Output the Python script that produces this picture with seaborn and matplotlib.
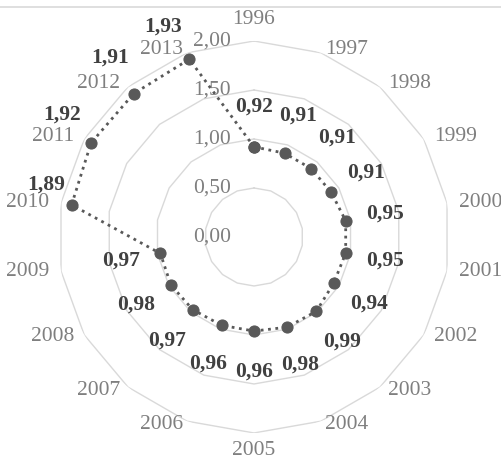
import numpy as np
import pandas as pd
import matplotlib
matplotlib.use("Agg")
import matplotlib.pyplot as plt
from matplotlib.lines import Line2D
import seaborn as sns

# Data
years = [str(y) for y in range(1996, 2014)]
values = [0.92, 0.91, 0.91, 0.91, 0.95, 0.95, 0.94, 0.99, 0.98,
          0.96, 0.96, 0.97, 0.98, 0.97, 1.89, 1.92, 1.91, 1.93]
ring_levels = [0.5, 1.0, 1.5, 2.0]
tick_levels = [0.0, 0.5, 1.0, 1.5, 2.0]

sns.set_style("white")
plt.rcParams["font.family"] = ["Liberation Serif", "DejaVu Serif"]

GRID = "#d9d9d9"
TEXT_GREY = "#7f7f7f"
MARK = "#595959"
LABEL = "#404040"
FS = 15.5

fig = plt.figure(figsize=(5.02, 4.59), dpi=100)
ax = fig.add_axes([0.1155, 0.0567, 0.781, 0.854], projection="polar")
ax.set_theta_zero_location("N")
ax.set_theta_direction(-1)
ax.grid(False)
ax.spines["polar"].set_visible(False)
ax.patch.set_alpha(0)

n = len(years)
theta = np.linspace(0, 2 * np.pi, n, endpoint=False)
closed = np.append(theta, theta[0])

# polygonal gridlines
for lvl in ring_levels:
    ax.plot(closed, [lvl] * (n + 1), color=GRID, lw=1.0, zorder=1)

# data series (closed loop)
df = pd.DataFrame({"angle": closed, "value": values + values[:1]})
sns.lineplot(data=df, x="angle", y="value", sort=False, estimator=None, ax=ax,
             color=MARK, lw=2.0, linestyle=":", marker="o", markersize=8,
             markeredgecolor=MARK, markerfacecolor=MARK, zorder=3)

ax.set_ylim(0, 2.0)
ax.set_xticks([])
ax.set_yticks([])
ax.set_xlabel("")
ax.set_ylabel("")

# category labels just outside the outer ring
for ang, yr in zip(theta, years):
    s, c = np.sin(ang), np.cos(ang)
    ha = "left" if s > 0.1 else ("right" if s < -0.1 else "center")
    if c > 0.95:
        va, dy = "bottom", 12
    elif c < -0.95:
        va, dy = "top", 8
    else:
        va, dy = "center", 4
    ax.annotate(yr, xy=(ang, 2.0), xytext=(12 * s, dy * c),
                textcoords="offset pixels", ha=ha, va=va, fontsize=FS,
                color=TEXT_GREY, annotation_clip=False)

# radial value labels along the vertical axis
for lvl in tick_levels:
    ax.annotate(f"{lvl:.2f}".replace(".", ","), xy=(0, lvl), xytext=(-23, 0),
                textcoords="offset pixels", ha="right", va="center",
                fontsize=FS, color=TEXT_GREY, annotation_clip=False)

# data labels: radial for the inner points, shifted up-left for the outer ones
outer_offsets = {14: (-25, 20), 15: (-29, 28), 16: (-24, 36), 17: (-26, 33)}
for i, (ang, v) in enumerate(zip(theta, values)):
    txt = f"{v:.2f}".replace(".", ",")
    if i in outer_offsets:
        ax.annotate(txt, xy=(ang, v), xytext=outer_offsets[i],
                    textcoords="offset pixels", ha="center", va="center",
                    fontsize=FS, fontweight="bold", color=LABEL,
                    annotation_clip=False, zorder=4)
    else:
        ax.text(ang, v + 0.41, txt, ha="center", va="center", fontsize=FS,
                fontweight="bold", color=LABEL, zorder=4)

# thin border line near the top edge
fig.add_artist(Line2D([0, 1], [1 - 6.5 / 459] * 2, transform=fig.transFigure,
                      color=GRID, lw=1.2))

fig.savefig("out.png", dpi=100)
